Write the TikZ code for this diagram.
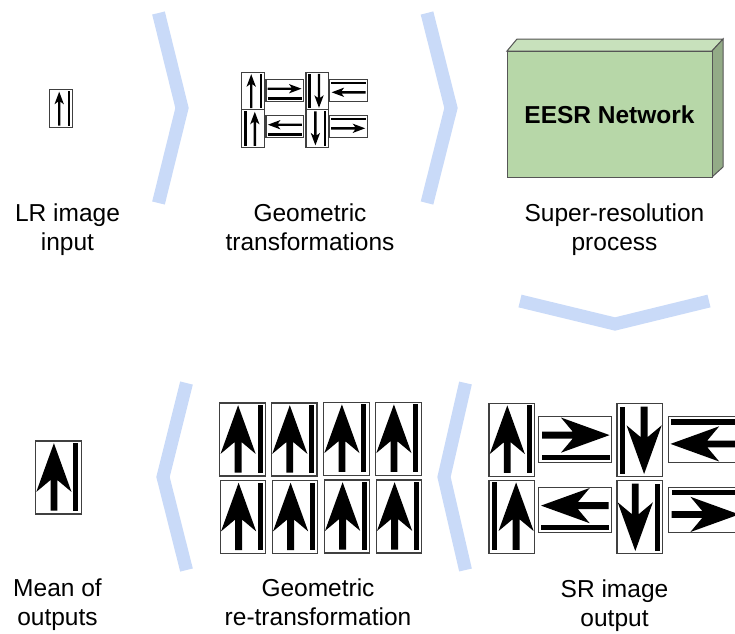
\documentclass[tikz,border=0pt]{standalone}
\usepackage{fontspec}
\setmainfont{Liberation Sans}
\definecolor{chev}{RGB}{201,218,248}
\definecolor{boxfront}{RGB}{183,215,168}
\definecolor{boxtop}{RGB}{200,225,188}
\definecolor{boxside}{RGB}{147,171,135}
\definecolor{boxline}{RGB}{85,85,85}
% big sign: centre x, centre y, rotation, xscale
\newcommand{\bigsign}[4]{%
  \begin{scope}[shift={(#1,#2)},rotate=#3,xscale=#4]
    \draw[tileframe] (-22.75,-36.5) rectangle (22.75,36.5);
    \fill (-4.4,-34.3) -- (13.2,14.4) -- (-1.0,2.5) -- (-1.0,33.2) -- (-7.8,33.2)
          -- (-7.8,2.5) -- (-22.0,14.4) -- cycle;
    \fill (15.0,-34.3) rectangle (20.1,33.2);
  \end{scope}}
% small sign
\newcommand{\smallsign}[4]{%
  \begin{scope}[shift={(#1,#2)},rotate=#3,xscale=#4]
    \draw[tileframe] (-11.25,-18.75) rectangle (11.25,18.75);
    \fill (-1.8,-16.8) -- (2.9,-4.2) -- (-0.6,-6.8) -- (-0.6,17.2) -- (-3.0,17.2)
          -- (-3.0,-6.8) -- (-6.5,-4.2) -- cycle;
    \fill (6.5,-17.2) rectangle (9.0,17.2);
  \end{scope}}
\begin{document}
\begin{tikzpicture}[x=1pt,y=-1pt,
  chevron/.style={draw=chev, line width=13, line join=miter},
  tileframe/.style={draw=black!75, line width=1.1, fill=white},
  lbl/.style={font=\fontsize{24.5}{29}\selectfont, align=center, inner sep=0pt}]
\useasboundingbox (0,0) rectangle (735,633);
\clip (0,0) rectangle (735,633);

% chevrons
\draw[chevron] (158.5,13) -- (182,108) -- (158.5,203);
\draw[chevron] (427,13) -- (451,108) -- (427,203);
\draw[chevron] (520,301) -- (615,324) -- (709,301);
\draw[chevron] (186.5,383) -- (163,477) -- (186.5,570);
\draw[chevron] (465.5,383) -- (444,477) -- (465.5,570);

% LR input
\smallsign{61}{108.5}{0}{1}

% geometric transformations
\smallsign{253}{91}{0}{1}
\smallsign{284.7}{90.5}{-90}{1}
\smallsign{317.2}{91}{180}{1}
\smallsign{348.4}{90.5}{90}{1}
\smallsign{253}{128.6}{0}{-1}
\smallsign{284.7}{126.5}{90}{-1}
\smallsign{317.2}{128.6}{180}{-1}
\smallsign{348.4}{126.5}{-90}{-1}

% EESR box
\filldraw[fill=boxtop, draw=boxline, line width=1] (507,51) -- (517,39) -- (723,39) -- (712,51) -- cycle;
\filldraw[fill=boxside, draw=boxline, line width=1] (712,51) -- (723,39) -- (723,167) -- (712,177) -- cycle;
\node[draw=boxline, fill=boxfront, line width=1, minimum width=205pt, minimum height=126pt,
      font=\fontsize{24.5}{29}\selectfont\bfseries, inner sep=0pt] (eesr) at (609.5,114.5) {EESR Network};

% SR image output
\bigsign{511.7}{439.7}{0}{1}
\bigsign{575.3}{439.5}{-90}{1}
\bigsign{639.7}{439.7}{180}{1}
\bigsign{704.8}{439.5}{90}{1}
\bigsign{511.7}{516.7}{0}{-1}
\bigsign{575.3}{510}{90}{-1}
\bigsign{639.7}{516.7}{180}{-1}
\bigsign{704.8}{510}{-90}{-1}

% geometric re-transformation
\bigsign{242.5}{439.5}{0}{1}
\bigsign{294.2}{439.5}{0}{1}
\bigsign{346.3}{438.7}{0}{1}
\bigsign{398.3}{438.7}{0}{1}
\bigsign{243}{517}{0}{1}
\bigsign{295}{517}{0}{1}
\bigsign{347}{516.5}{0}{1}
\bigsign{399}{516.5}{0}{1}

% mean of outputs
\bigsign{58.3}{477.5}{0}{1}

% labels
\node[lbl] (l1) at (67.5,229.8) {\strut LR image\\\strut input};
\node[lbl] (l2) at (310,229.8) {\strut Geometric\\\strut transformations};
\node[lbl] (l3) at (614.5,229.8) {\strut Super-resolution\\\strut process};
\node[lbl] (l4) at (57.5,605.5) {\strut Mean of\\\strut outputs};
\node[lbl] (l5) at (318,605) {\strut Geometric\\\strut re-transformation};
\node[lbl] (l6) at (614.5,606) {\strut SR image\\\strut output};
\end{tikzpicture}
\end{document}
